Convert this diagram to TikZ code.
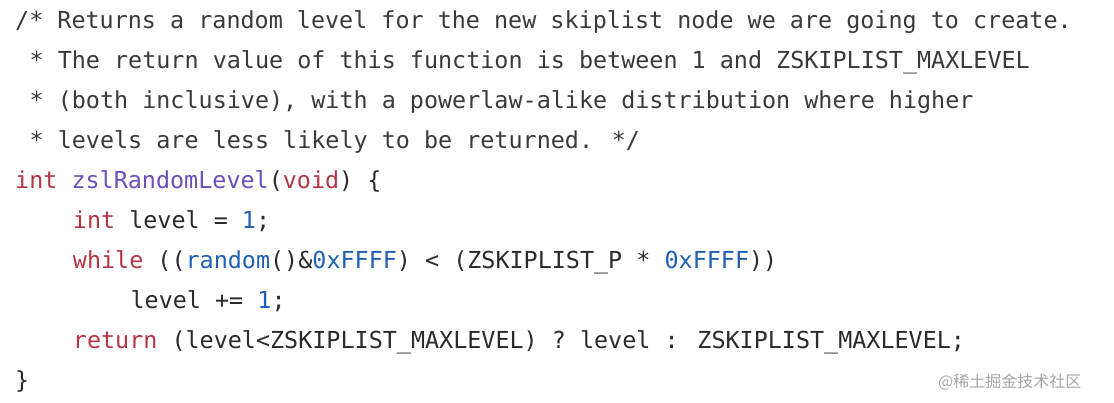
\documentclass[tikz,border=0pt]{standalone}
\usepackage{fontspec}
\newfontfamily\code{DejaVu Sans Mono}
\newfontfamily\cjk{Noto Sans CJK SC}
\definecolor{kw}{HTML}{B53544}
\definecolor{fn}{HTML}{6B4FBB}
\definecolor{num}{HTML}{1F5FB5}
\definecolor{txt}{HTML}{2B2B2B}
\definecolor{cm}{HTML}{3A3A3A}
\newcommand{\K}[1]{\textcolor{kw}{#1}}
\newcommand{\F}[1]{\textcolor{fn}{#1}}
\newcommand{\N}[1]{\textcolor{num}{#1}}
\begin{document}
\begin{tikzpicture}[x=1pt,y=1pt,
  ln/.style={anchor=base west,inner sep=0pt,font=\code\fontsize{23.4}{28}\selectfont,text=txt}]
\useasboundingbox[fill=white] (0,0) rectangle (1114,-402);
\def\cw{14.43}
\node[ln,text=cm] (l1) at (15,-28) {/* Returns a random level for the new skiplist node we are going to create.};
\node[ln,text=cm] (l2) at (15+\cw,-68) {* The return value of this function is between 1 and ZSKIPLIST\_MAXLEVEL};
\node[ln,text=cm] (l3) at (15+\cw,-108) {* (both inclusive), with a powerlaw-alike distribution where higher};
\node[ln,text=cm] (l4) at (15+\cw,-148) {* levels are less likely to be returned. */};
\node[ln] (l5) at (15,-188) {\K{int} \F{zslRandomLevel}(\K{void}) \{};
\node[ln] (l6) at (15+4*\cw,-228) {\K{int} level = \N{1};};
\node[ln] (l7) at (15+4*\cw,-268) {\K{while} ((\N{random}()\&\N{0xFFFF}) < (ZSKIPLIST\_P * \N{0xFFFF}))};
\node[ln] (l8) at (15+8*\cw,-308) {level += \N{1};};
\node[ln] (l9) at (15+4*\cw,-348) {\K{return} (level<ZSKIPLIST\_MAXLEVEL) ? level : ZSKIPLIST\_MAXLEVEL;};
\node[ln] (l10) at (15,-388) {\}};
\node[anchor=base west,inner sep=0pt,font=\cjk\fontsize{16}{18}\selectfont,text=black!35] (wm) at (938,-387) {@稀土掘金技术社区};
\end{tikzpicture}
\end{document}
